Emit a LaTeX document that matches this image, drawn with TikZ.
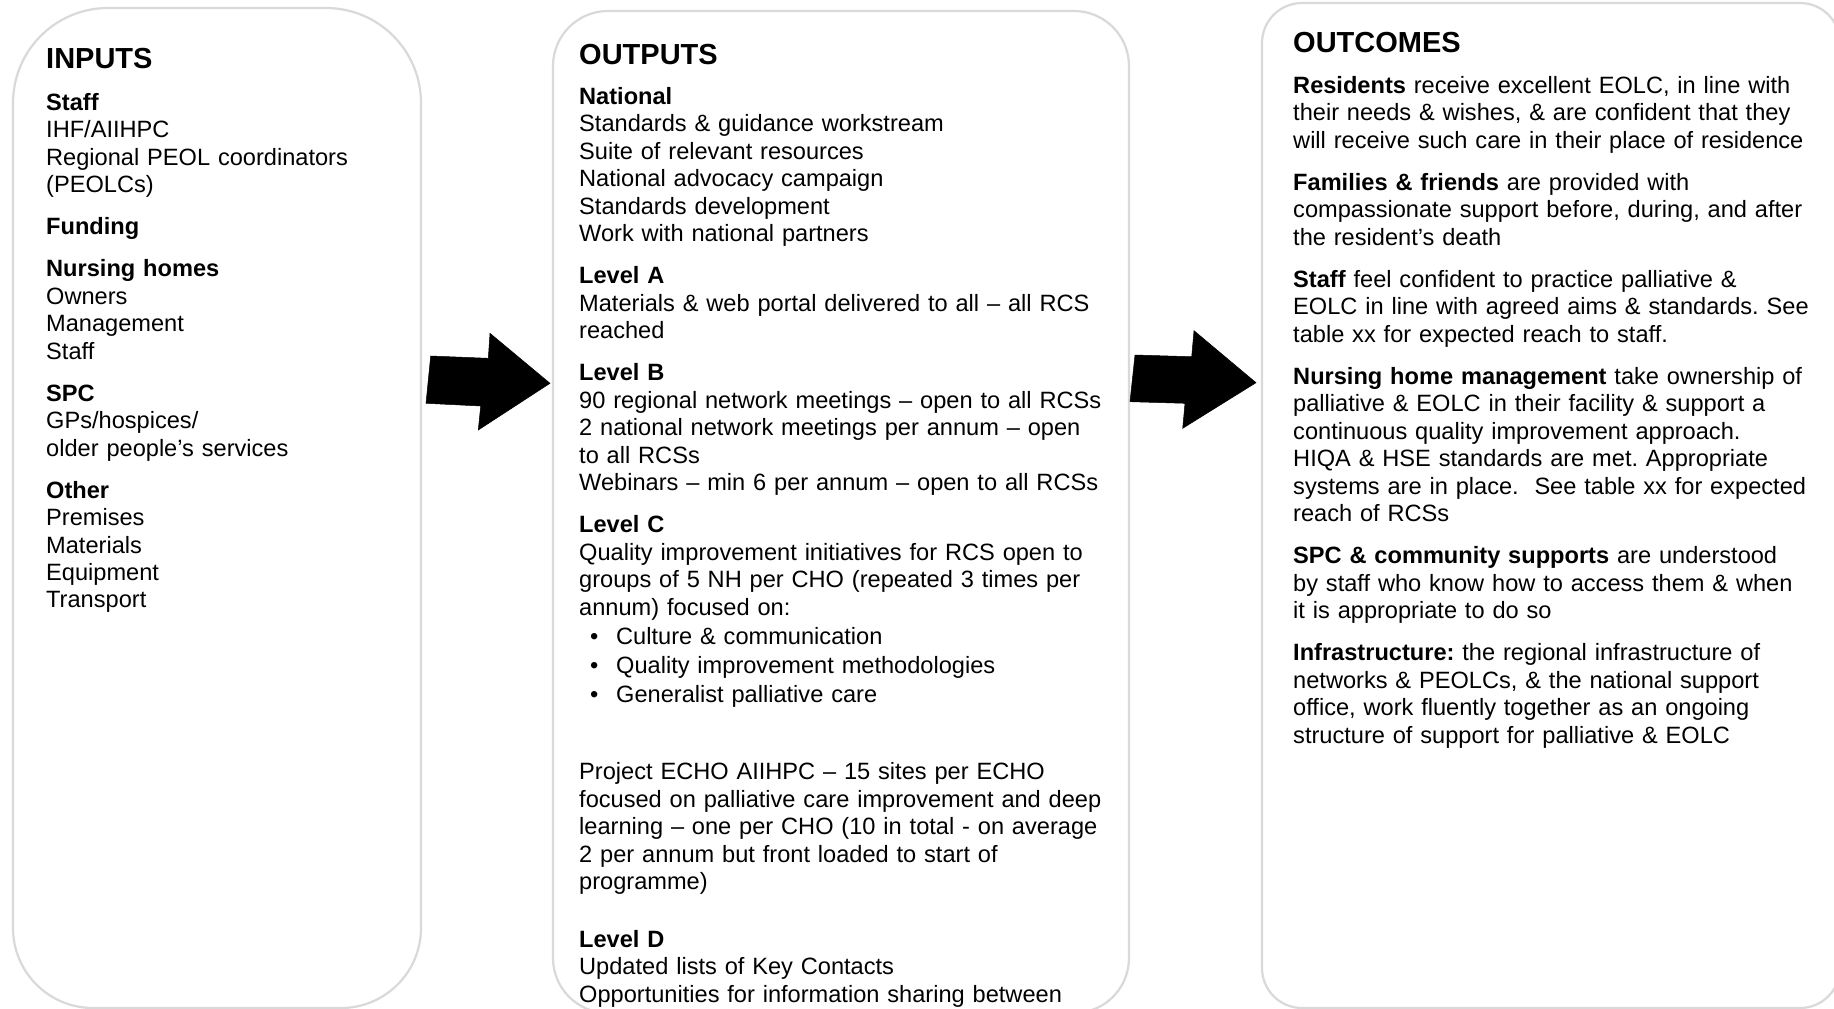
\documentclass[tikz,border=0pt]{standalone}
\usepackage{fontspec}
\setmainfont{Liberation Sans}
\frenchspacing
\definecolor{framegray}{RGB}{217,217,217}
\begin{document}
\begin{tikzpicture}[x=1pt,y=-1pt,
  frame/.style={draw=framegray,line width=2.2pt},
  blockarrow/.style={fill=black,draw=black,line width=0.5pt,line join=miter},
  heading/.style={anchor=base west,inner sep=0pt,font=\fontsize{29}{34}\selectfont\bfseries},
  body/.style={anchor=base west,inner sep=0pt,text width=620pt,align=left,
    font=\fontsize{23.6}{27.5}\selectfont}]
\useasboundingbox (0,0) rectangle (1834,1009);
\fill[white] (0,0) rectangle (1834,1009);

% three rounded frames
\draw[frame] (13,500) [rounded corners=95] -- (13,8) -- (421,8) -- (421,500)
  [rounded corners=80] -- (421,1008) -- (13,1008) -- cycle;
\draw[frame] (553,500) [rounded corners=55] -- (553,11) -- (1129,11) -- (1129,500)
  -- (1129,1013) -- (553,1013) -- cycle;
\draw[frame] (1262,500) [rounded corners=40] -- (1262,3) -- (1840,3) -- (1840,500)
  -- (1840,1008) -- (1262,1008) -- cycle;

% block arrows between the frames
\fill[blockarrow] (430.7,356) -- (488.3,358.3) -- (490,333.3) -- (550,383.3)
  -- (478.3,430) -- (480.7,406) -- (426,403.3) -- cycle;
\fill[blockarrow] (1135,355) -- (1191.7,356.7) -- (1194,330.7) -- (1256,382.7)
  -- (1182.7,428.3) -- (1185,403.3) -- (1130,401.7) -- cycle;

% INPUTS
\node[heading] (inhead) at (46,68) {INPUTS};
\node[body] (inbody) at (46,110) {\textbf{Staff}\\
IHF/AIIHPC\\
Regional PEOL coordinators\\
(PEOLCs)\\[14.5pt]
\textbf{Funding}\\[14.5pt]
\textbf{Nursing homes}\\
Owners\\
Management\\
Staff\\[14.5pt]
\textbf{SPC}\\
GPs/hospices/\\
older people’s services\\[14.5pt]
\textbf{Other}\\
Premises\\
Materials\\
Equipment\\
Transport};

% OUTPUTS
\node[heading] (outhead) at (579,64) {OUTPUTS};
\node[body] (outbody) at (579,104) {\textbf{National}\\
Standards \& guidance workstream\\
Suite of relevant resources\\
National advocacy campaign\\
Standards development\\
Work with national partners\\[14.5pt]
\textbf{Level A}\\
Materials \& web portal delivered to all – all RCS\\
reached\\[14.5pt]
\textbf{Level B}\\
90 regional network meetings – open to all RCSs\\
2 national network meetings per annum – open\\
to all RCSs\\
Webinars – min 6 per annum – open to all RCSs\\[14.5pt]
\textbf{Level C}\\
Quality improvement initiatives for RCS open to\\
groups of 5 NH per CHO (repeated 3 times per\\
annum) focused on:\\[1.5pt]
\makebox[37pt][l]{\hspace*{11pt}•}Culture \& communication\\[1.5pt]
\makebox[37pt][l]{\hspace*{11pt}•}Quality improvement methodologies\\[1.5pt]
\makebox[37pt][l]{\hspace*{11pt}•}Generalist palliative care\\[50pt]
Project ECHO AIIHPC – 15 sites per ECHO\\
focused on palliative care improvement and deep\\
learning – one per CHO (10 in total - on average\\
2 per annum but front loaded to start of\\
programme)\\[30pt]
\textbf{Level D}\\
Updated lists of Key Contacts\\
Opportunities for information sharing between};

% OUTCOMES
\node[heading] (ochead) at (1293,52) {OUTCOMES};
\node[body] (ocbody) at (1293,93) {\textbf{Residents} receive excellent EOLC, in line with\\
their needs \& wishes, \& are confident that they\\
will receive such care in their place of residence\\[14.5pt]
\textbf{Families \& friends} are provided with\\
compassionate support before, during, and after\\
the resident’s death\\[14.5pt]
\textbf{Staff} feel confident to practice palliative \&\\
EOLC in line with agreed aims \& standards. See\\
table xx for expected reach to staff.\\[14.5pt]
\textbf{Nursing home management} take ownership of\\
palliative \& EOLC in their facility \& support a\\
continuous quality improvement approach.\\
HIQA \& HSE standards are met. Appropriate\\
systems are in place.\ \ See table xx for expected\\
reach of RCSs\\[14.5pt]
\textbf{SPC \& community supports} are understood\\
by staff who know how to access them \& when\\
it is appropriate to do so\\[14.5pt]
\textbf{Infrastructure:} the regional infrastructure of\\
networks \& PEOLCs, \& the national support\\
office, work fluently together as an ongoing\\
structure of support for palliative \& EOLC};
\end{tikzpicture}
\end{document}
